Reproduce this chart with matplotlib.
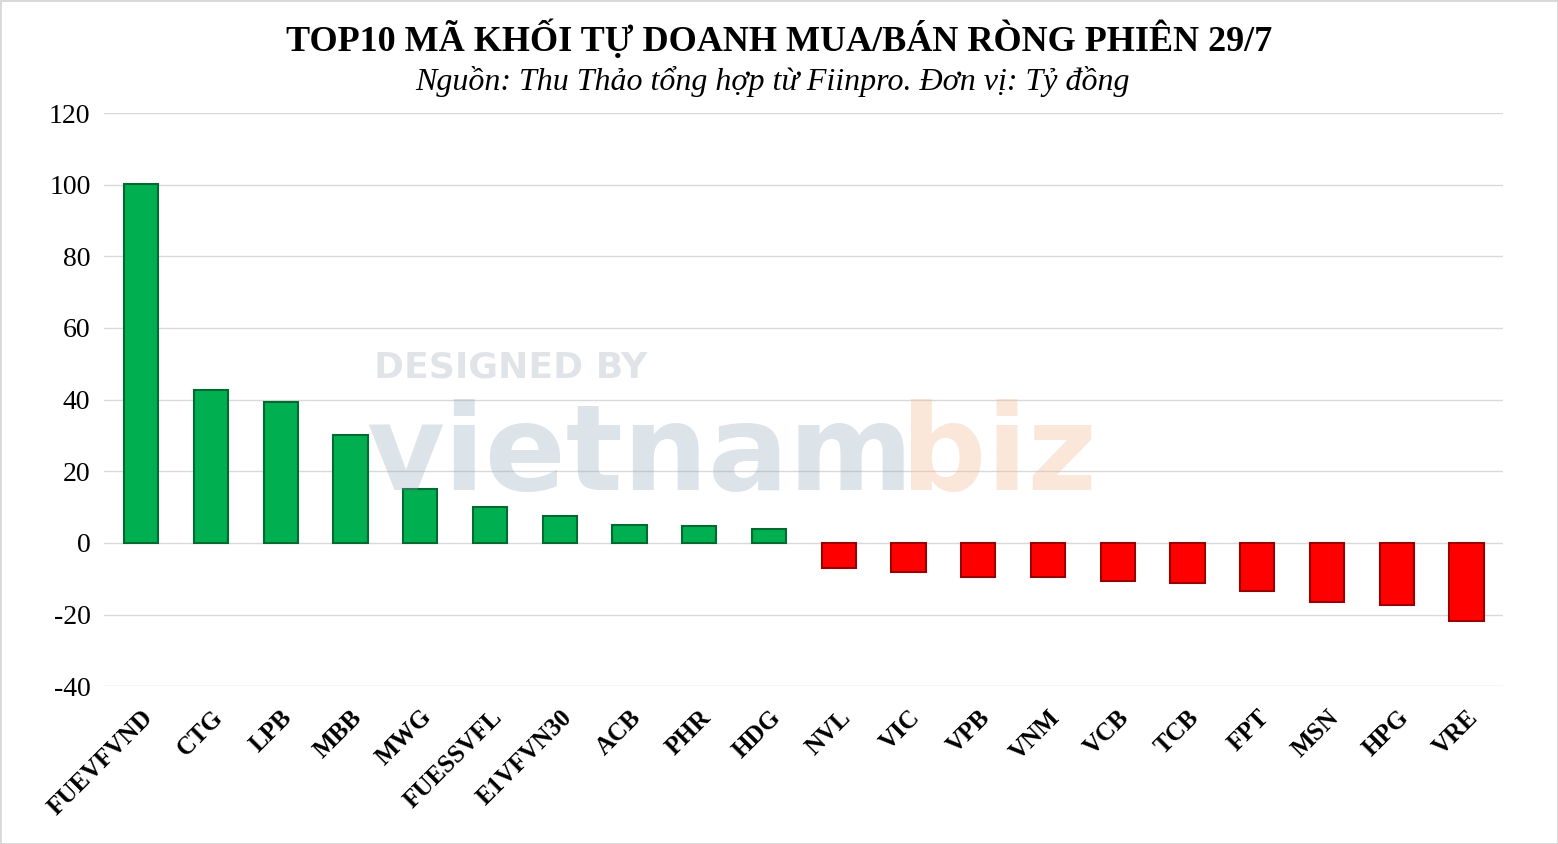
import numpy as np
from matplotlib import pyplot as plt

ma_ck = ["FUEVFVND", "CTG", "LPB", "MBB", "MWG", "FUESSVFL", "E1VFVN30", "ACB", "PHR", "HDG",
         "NVL", "VIC", "VPB", "VNM", "VCB", "TCB", "FPT", "MSN", "HPG", "VRE"]
gia_tri = [100.3, 42.7, 39.4, 30.2, 15.1, 10.1, 7.5, 5.0, 4.7, 3.9,
           -6.9, -8.2, -9.6, -9.6, -10.5, -11.2, -13.5, -16.5, -17.4, -21.9]
y_ticks = [-40, -20, 0, 20, 40, 60, 80, 100, 120]

plt.rcParams['font.family'] = ['Liberation Serif', 'DejaVu Serif']

fig = plt.figure(figsize=(15.58, 8.44), dpi=100)
fig.patch.set_edgecolor('#D9D9D9')
fig.patch.set_linewidth(2)
ax = fig.add_axes([0.067, 0.187, 0.898, 0.679])

x = np.arange(len(ma_ck))
mau = ['#00B050' if v >= 0 else '#FF0000' for v in gia_tri]
vien = ['#006B30' if v >= 0 else '#9A0000' for v in gia_tri]
ax.bar(x, gia_tri, width=0.49, color=mau, edgecolor=vien, linewidth=1.5, zorder=3)

ax.set_xlim(-0.53, len(ma_ck) - 0.47)
ax.set_ylim(-40, 120)
ax.set_yticks(y_ticks)
ax.set_yticklabels([str(t) for t in y_ticks], fontsize=20)
ax.set_xticks(x)
ax.set_xticklabels(ma_ck, rotation=45, ha='right', rotation_mode='anchor',
                   fontsize=18, fontweight='bold')
ax.tick_params(length=0, pad=10)
ax.tick_params(axis='x', pad=14)
ax.grid(axis='y', color='#D9D9D9', linewidth=1, zorder=0)
for s in ax.spines.values():
    s.set_visible(False)

# watermark
fig.text(0.24, 0.553, "DESIGNED BY", fontsize=26, fontweight='bold', color='#9AA5B1',
         alpha=0.3, family='DejaVu Sans')
fig.text(0.235, 0.42, "vietnam", fontsize=86, fontweight='bold', color='#8CA3B8',
         alpha=0.3, family='DejaVu Sans')
fig.text(0.578, 0.42, "biz", fontsize=86, fontweight='bold', color='#F4B183',
         alpha=0.3, family='DejaVu Sans')

fig.text(0.5, 0.953, "TOP10 MÃ KHỐI TỰ DOANH MUA/BÁN RÒNG PHIÊN 29/7",
         ha='center', va='center', fontsize=26, fontweight='bold')
fig.text(0.496, 0.903, "Nguồn: Thu Thảo tổng hợp từ Fiinpro. Đơn vị: Tỷ đồng",
         ha='center', va='center', fontsize=23, style='italic')

plt.savefig("out.png", dpi=100)
